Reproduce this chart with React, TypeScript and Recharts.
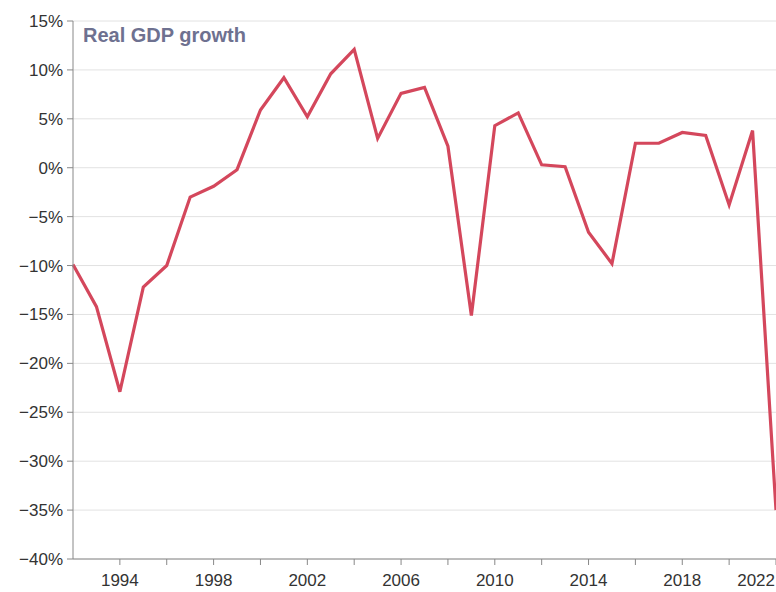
import React from "react";
import { LineChart, Line, XAxis, YAxis, CartesianGrid } from "recharts";

const years = [
  1992, 1993, 1994, 1995, 1996, 1997, 1998, 1999, 2000, 2001, 2002, 2003, 2004, 2005, 2006, 2007,
  2008, 2009, 2010, 2011, 2012, 2013, 2014, 2015, 2016, 2017, 2018, 2019, 2020, 2021, 2022,
];
const growth = [
  -9.9, -14.2, -22.9, -12.2, -10.0, -3.0, -1.9, -0.2, 5.9, 9.2, 5.2, 9.6, 12.1, 3.0, 7.6, 8.2,
  2.2, -15.1, 4.3, 5.6, 0.3, 0.1, -6.6, -9.8, 2.5, 2.5, 3.6, 3.3, -3.8, 3.8, -35.0,
];
const yTicks = [-40, -35, -30, -25, -20, -15, -10, -5, 0, 5, 10, 15];
const xTicks = [1994, 1996, 1998, 2000, 2002, 2004, 2006, 2008, 2010, 2012, 2014, 2016, 2018, 2020, 2022];

const data = years.map((y, i) => ({ year: y, growth: growth[i] }));

const FONT = "'Liberation Sans', Arial, sans-serif";

const fmtPct = (v: number) => (v < 0 ? `\u2212${Math.abs(v)}%` : `${v}%`);

function YearTick(props: any) {
  const { x, y, payload } = props;
  const yr = payload.value as number;
  if ((yr - 1994) % 4 !== 0) return null;
  const last = yr === 2022;
  return (
    <text
      x={last ? x - 1 : x}
      y={y + 19}
      textAnchor={last ? "end" : "middle"}
      fill="#333"
      fontSize={17}
      fontFamily={FONT}
    >
      {yr}
    </text>
  );
}

export default function App() {
  return (
    <div style={{ position: "fixed", left: 0, top: 0, width: 776, height: 592, background: "#fff", overflow: "hidden" }}>
      <LineChart
        width={776}
        height={592}
        data={data}
        margin={{ top: 21, right: 0, bottom: 0, left: 0 }}
      >
        <CartesianGrid vertical={false} stroke="#e2e2e2" />
        <XAxis
          type="number"
          dataKey="year"
          domain={[1992, 2022]}
          ticks={xTicks}
          tick={<YearTick />}
          tickSize={6}
          height={33}
          stroke="#888"
          interval={0}
        />
        <YAxis
          type="number"
          domain={[-40, 15]}
          ticks={yTicks}
          tickFormatter={fmtPct}
          width={73}
          tickSize={6}
          tickMargin={4}
          stroke="#888"
          tick={{ fill: "#333", fontSize: 17, fontFamily: FONT }}
          interval={0}
        />
        <Line
          type="linear"
          dataKey="growth"
          stroke="#d4475c"
          strokeWidth={3.2}
          dot={false}
          isAnimationActive={false}
        />
      </LineChart>
      <div
        style={{
          position: "absolute",
          left: 83,
          top: 24,
          fontFamily: FONT,
          fontSize: 20,
          fontWeight: "bold",
          color: "#6e7190",
        }}
      >
        Real GDP growth
      </div>
    </div>
  );
}
